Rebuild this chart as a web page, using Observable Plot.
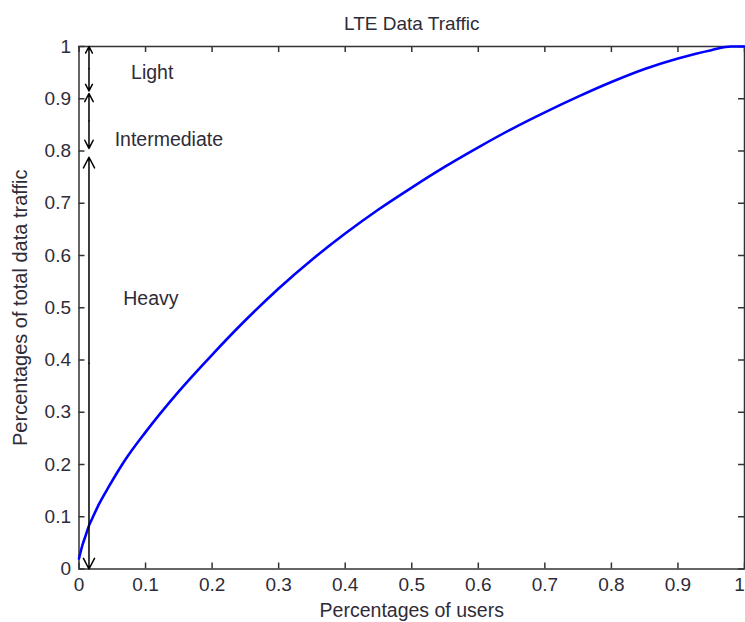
<!DOCTYPE html>
<html><head><meta charset="utf-8">
<script src="https://cdn.jsdelivr.net/npm/d3@7"></script>
<script src="https://cdn.jsdelivr.net/npm/@observablehq/plot@0.6"></script>
<style>body{margin:0;background:#fff} #chart svg{font-family:"Liberation Sans",Arial,sans-serif;background:#fff}</style>
</head><body><div id="chart"></div>
<script>
// Curve: share of users (x) vs share of total data traffic (y)
const userShare    = [0, 0.005, 0.01, 0.015, 0.02, 0.03, 0.045, 0.07, 0.1, 0.15, 0.2, 0.25, 0.3, 0.35, 0.4, 0.45, 0.5, 0.55, 0.6, 0.65, 0.7, 0.75, 0.8, 0.85, 0.9, 0.95, 0.98, 1.0];
const trafficShare = [0.02, 0.045, 0.064, 0.083, 0.097, 0.124, 0.158, 0.21, 0.262, 0.34, 0.41, 0.476, 0.537, 0.592, 0.642, 0.688, 0.73, 0.77, 0.807, 0.842, 0.874, 0.904, 0.932, 0.957, 0.977, 0.993, 1.0, 1.0];

const xTicks = [0, 0.1, 0.2, 0.3, 0.4, 0.5, 0.6, 0.7, 0.8, 0.9, 1];
const yTicks = [0, 0.1, 0.2, 0.3, 0.4, 0.5, 0.6, 0.7, 0.8, 0.9, 1];

// User classes along the double-arrow at x = arrowX
const arrowX = 0.015;
const classNames = ["Light", "Intermediate", "Heavy"];
const classTop    = [1.0, 0.91, 0.788];
const classBottom = [0.915, 0.805, 0.0];
const labelX = [0.11, 0.135, 0.108];
const labelY = [0.95, 0.822, 0.518];

const title = "LTE Data Traffic";
const xLabel = "Percentages of users";
const yLabel = "Percentages of total data traffic";

const W = 745, H = 622;
const mL = 78.5, mR = 1, mT = 46, mB = 53.5;
const pw = W - mL - mR, ph = H - mT - mB;

const curve = userShare.map((x, i) => ({x, y: trafficShare[i]}));
const arrows = [];
classNames.forEach((n, i) => {
  const mid = (classTop[i] + classBottom[i]) / 2;
  arrows.push({y1: mid, y2: classTop[i]});
  arrows.push({y1: mid, y2: classBottom[i]});
});
const labels = classNames.map((t, i) => ({t, x: labelX[i], y: labelY[i]}));
const fmt = d => d === 0 ? "0" : d === 1 ? "1" : String(d);
const ink = "#2e2c38";

const chart = Plot.plot({
  width: W, height: H,
  marginLeft: mL, marginRight: mR, marginTop: mT, marginBottom: mB,
  style: {fontSize: "19px", color: ink, background: "#fff"},
  x: {domain: [0, 1]},
  y: {domain: [0, 1]},
  marks: [
    Plot.frame({stroke: "#333", strokeWidth: 1.5}),
    Plot.tickX(xTicks, {x: d => d, insetTop: ph - 6, stroke: "#333", strokeWidth: 1.5}),
    Plot.tickX(xTicks, {x: d => d, insetBottom: ph - 6, stroke: "#333", strokeWidth: 1.5}),
    Plot.tickY(yTicks, {y: d => d, insetRight: pw - 6, stroke: "#333", strokeWidth: 1.5}),
    Plot.tickY(yTicks, {y: d => d, insetLeft: pw - 6, stroke: "#333", strokeWidth: 1.5}),
    Plot.axisX(xTicks.slice(0, -1), {tickSize: 0, tickPadding: 8, tickFormat: fmt, label: null, fontSize: 19, fill: ink}),
    Plot.axisX(xTicks.slice(-1), {tickSize: 0, tickPadding: 8, tickFormat: fmt, label: null, fontSize: 19, fill: ink, dx: -5}),
    Plot.axisY(yTicks, {tickSize: 0, tickPadding: 8, tickFormat: fmt, label: null, fontSize: 19, fill: ink}),
    Plot.line(curve, {x: "x", y: "y", stroke: "#0000ff", strokeWidth: 2.6, curve: "monotone-x"}),
    Plot.arrow(arrows, {x1: () => arrowX, x2: () => arrowX, y1: "y1", y2: "y2",
      stroke: "#000", strokeWidth: 1.5, headLength: 12, headAngle: 55, insetStart: 0, insetEnd: 0}),
    Plot.text(labels, {x: "x", y: "y", text: "t", fontSize: 19.5, fill: ink}),
    Plot.text([title], {frameAnchor: "top", lineAnchor: "middle", dy: -23, fontSize: 19, fill: ink}),
    Plot.text([xLabel], {frameAnchor: "bottom", lineAnchor: "middle", dy: 42, fontSize: 19.5, fill: ink}),
    Plot.text([yLabel], {frameAnchor: "left", textAnchor: "middle", lineAnchor: "middle", dx: -58, rotate: -90, fontSize: 20, fill: ink})
  ]
});
document.getElementById("chart").appendChild(chart);
</script>
</body></html>
